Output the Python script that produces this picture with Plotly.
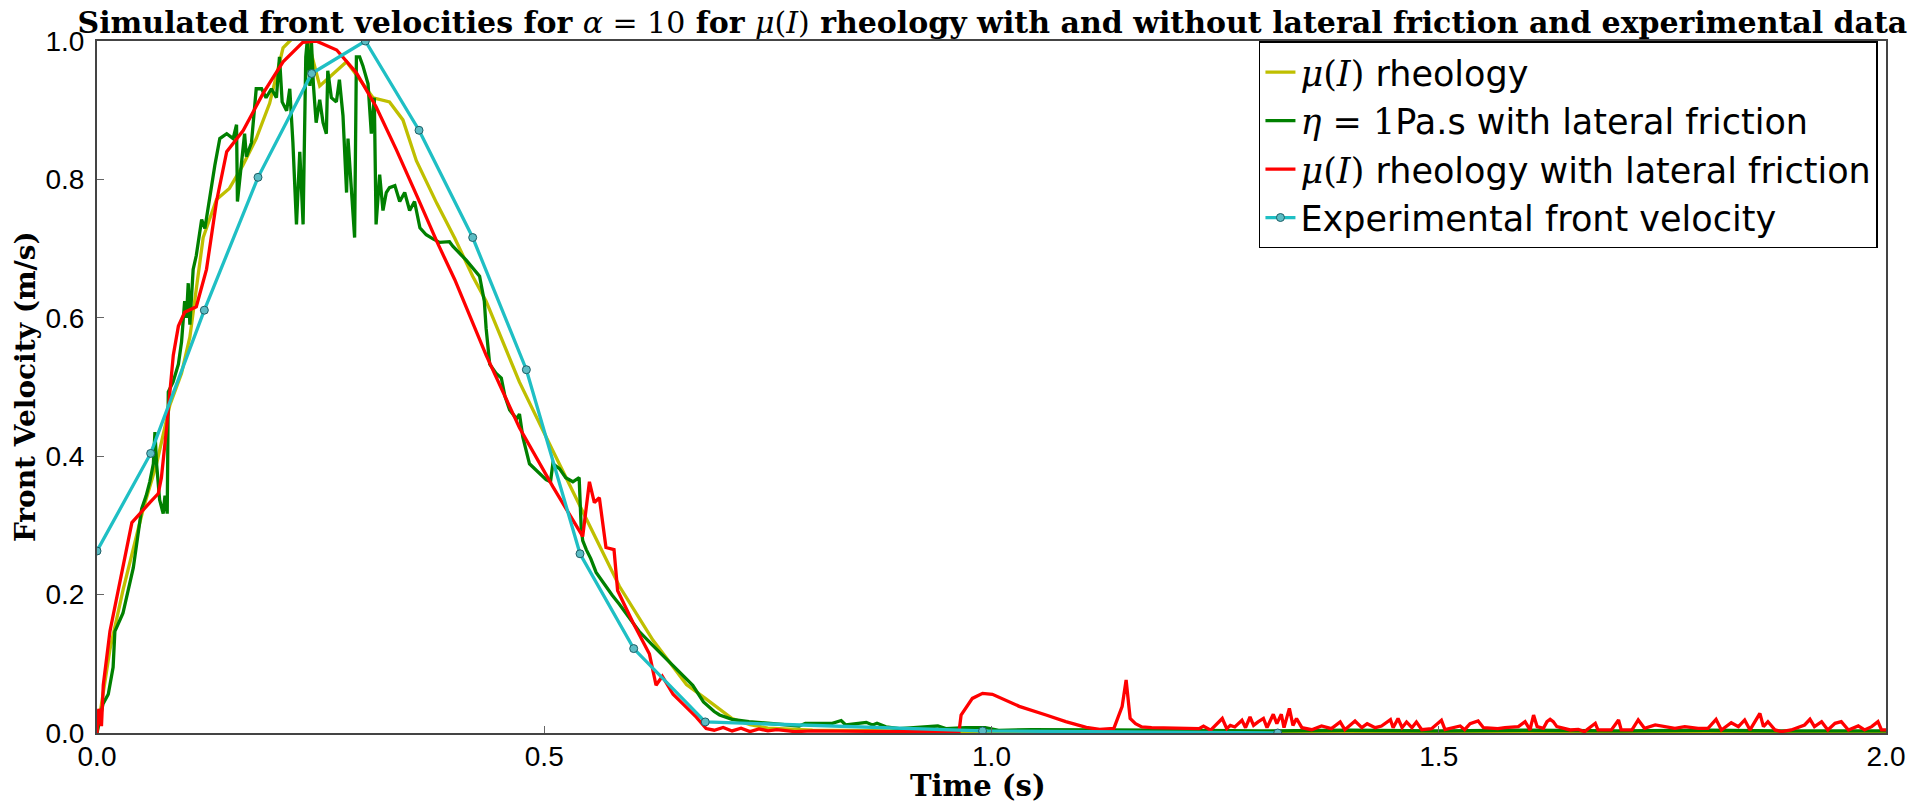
import plotly.graph_objects as go

# ---------------- data ----------------
mu_t = [0, 0.0145, 0.029, 0.0517, 0.0666, 0.0815, 0.0945, 0.1038, 0.1187, 0.1336, 0.148, 0.163, 0.178,
        0.193, 0.208, 0.2155, 0.225, 0.236, 0.249, 0.262, 0.279, 0.294, 0.3086, 0.327, 0.342, 0.357,
        0.38, 0.40, 0.42, 0.435, 0.4723, 0.5096, 0.547, 0.584, 0.6216, 0.659, 0.68, 0.70, 0.71, 0.73,
        0.75, 0.80, 1.0, 2.0]
mu_v = [0, 0.121, 0.206, 0.324, 0.389, 0.474, 0.52, 0.572, 0.716, 0.771, 0.787, 0.82, 0.859,
        0.91, 0.99, 1.0, 1.01, 1.0, 0.935, 0.95, 0.97, 0.944, 0.918, 0.912, 0.886, 0.827,
        0.765, 0.715, 0.66, 0.624, 0.507, 0.408, 0.31, 0.212, 0.134, 0.07, 0.05, 0.03, 0.021, 0.012,
        0.007, 0.004, 0.002, 0.001]

eta_t = [0, 0.0067, 0.0126, 0.018, 0.020, 0.029, 0.0406, 0.0499, 0.055, 0.059, 0.063, 0.0648, 0.0666,
         0.070, 0.074, 0.076, 0.0785, 0.0797, 0.085, 0.091, 0.0945, 0.098, 0.100, 0.102, 0.1038, 0.1075,
         0.111, 0.117, 0.1206, 0.126, 0.1317, 0.1373, 0.145, 0.1522, 0.156, 0.157, 0.1615, 0.165, 0.167,
         0.1727, 0.178, 0.184, 0.189, 0.195, 0.2006, 0.204, 0.207, 0.212, 0.2155, 0.219, 0.223, 0.2267,
         0.2304, 0.2334, 0.235, 0.238, 0.2397, 0.242, 0.245, 0.249, 0.2527, 0.2564, 0.258, 0.262, 0.2676,
         0.271, 0.275, 0.279, 0.2806, 0.2843, 0.288, 0.290, 0.2936, 0.2973, 0.303, 0.3067, 0.310, 0.312,
         0.316, 0.3197, 0.3234, 0.327, 0.333, 0.3384, 0.344, 0.3495, 0.355, 0.361, 0.368, 0.3756, 0.383,
         0.394, 0.398, 0.413, 0.4277, 0.433, 0.435, 0.439, 0.446, 0.452, 0.456, 0.4613, 0.469, 0.4723,
         0.476, 0.4835, 0.494, 0.502, 0.507, 0.5096, 0.517, 0.524, 0.532, 0.539, 0.5413, 0.543, 0.547,
         0.552, 0.558, 0.565, 0.576, 0.584, 0.595, 0.606, 0.621, 0.636, 0.651, 0.666, 0.678, 0.690, 0.696,
         0.71, 0.729, 0.748, 0.766, 0.785, 0.792, 0.822, 0.832, 0.837, 0.86, 0.867, 0.872, 0.882, 0.897,
         0.94, 0.949, 0.971, 0.993, 1.008, 1.045, 1.083, 1.142, 1.2, 1.3, 1.4, 1.5, 1.6, 1.7, 1.8, 1.9, 2.0]
eta_v = [0, 0.042, 0.056, 0.095, 0.147, 0.173, 0.239, 0.324, 0.343, 0.363, 0.389, 0.435, 0.389,
         0.337, 0.317, 0.343, 0.317, 0.493, 0.507, 0.533, 0.565, 0.624, 0.60, 0.65, 0.59, 0.67,
         0.69, 0.742, 0.729, 0.775, 0.82, 0.859, 0.866, 0.859, 0.879, 0.768, 0.82, 0.866, 0.833,
         0.853, 0.931, 0.931, 0.918, 0.931, 0.918, 0.977, 0.912, 0.899, 0.931, 0.853, 0.735, 0.84,
         0.735, 0.977, 1.0, 0.935, 1.0, 0.935, 0.882, 0.915, 0.882, 0.866, 0.957, 0.918, 0.912,
         0.944, 0.892, 0.781, 0.859, 0.794, 0.716, 0.977, 0.977, 0.964, 0.938, 0.866, 0.918, 0.735,
         0.807, 0.755, 0.781, 0.788, 0.791, 0.768, 0.781, 0.755, 0.768, 0.73, 0.72, 0.714, 0.709,
         0.71, 0.703, 0.683, 0.66, 0.624, 0.585, 0.533, 0.52, 0.513, 0.487, 0.467, 0.454, 0.461,
         0.428, 0.389, 0.376, 0.366, 0.363, 0.389, 0.382, 0.369, 0.363, 0.369, 0.297, 0.278, 0.265,
         0.252, 0.232, 0.219, 0.199, 0.186, 0.167, 0.147, 0.127, 0.108, 0.088, 0.069, 0.045, 0.031, 0.026,
         0.0198, 0.0164, 0.014, 0.0116, 0.0101, 0.014, 0.014, 0.018, 0.0116, 0.0154, 0.0116, 0.014, 0.009, 0.0063,
         0.0101, 0.0063, 0.0077, 0.0077, 0.0039, 0.0048, 0.0048, 0.0048, 0.004, 0.003, 0.004, 0.003, 0.004, 0.003, 0.004, 0.003, 0.003]

mulf_t = [0, 0.002, 0.005, 0.007, 0.0145, 0.029, 0.039, 0.059, 0.0685, 0.072, 0.0778, 0.0853, 0.091, 0.098,
          0.111, 0.1224, 0.1336, 0.145, 0.1634, 0.186, 0.208, 0.230, 0.245, 0.268, 0.29, 0.312, 0.3346,
          0.358, 0.38, 0.40, 0.435, 0.4723, 0.5096, 0.543, 0.5505, 0.556, 0.5616, 0.569, 0.578, 0.582,
          0.599, 0.6176, 0.625, 0.632, 0.644, 0.655, 0.670, 0.681, 0.69, 0.70, 0.71, 0.72, 0.73, 0.74,
          0.75, 0.76, 0.78, 0.80, 0.85, 0.90, 0.9637, 0.966, 0.9786, 0.990, 1.001, 1.016, 1.031, 1.061,
          1.083, 1.106, 1.121, 1.1368, 1.1405, 1.146, 1.1505, 1.153, 1.155, 1.161, 1.168, 1.179, 1.213,
          1.232, 1.237, 1.245, 1.258, 1.263, 1.267, 1.272, 1.28, 1.284, 1.289, 1.293, 1.298, 1.304, 1.308,
          1.315, 1.319, 1.324, 1.327, 1.333, 1.337, 1.341, 1.347, 1.358, 1.369, 1.38, 1.3898, 1.395,
          1.4064, 1.414, 1.42, 1.429, 1.436, 1.446, 1.449, 1.4545, 1.459, 1.464, 1.47, 1.475, 1.481,
          1.492, 1.503, 1.507, 1.524, 1.529, 1.535, 1.544, 1.55, 1.566, 1.574, 1.589, 1.5965, 1.602,
          1.606, 1.61, 1.617, 1.621, 1.6245, 1.628, 1.632, 1.639, 1.647, 1.656, 1.663, 1.675, 1.678,
          1.693, 1.701, 1.704, 1.716, 1.723, 1.73, 1.742, 1.753, 1.764, 1.775, 1.79, 1.801, 1.81, 1.816,
          1.827, 1.835, 1.842, 1.848, 1.853, 1.859, 1.863, 1.868, 1.876, 1.883, 1.894, 1.909, 1.915,
          1.92, 1.928, 1.935, 1.943, 1.95, 1.958, 1.969, 1.976, 1.984, 1.991, 1.995, 2.0]
mulf_v = [0, 0.035, 0.01, 0.069, 0.147, 0.239, 0.304, 0.333, 0.346, 0.369, 0.441, 0.546, 0.588, 0.608,
          0.616, 0.67, 0.768, 0.84, 0.8706, 0.925, 0.97, 0.998, 1.0, 0.987, 0.954, 0.905, 0.843,
          0.775, 0.71, 0.655, 0.546, 0.441, 0.356, 0.284, 0.363, 0.333, 0.34, 0.268, 0.265, 0.206,
          0.16, 0.114, 0.069, 0.082, 0.056, 0.042, 0.023, 0.0065, 0.004, 0.008, 0.003, 0.007, 0.002, 0.006,
          0.003, 0.005, 0.002, 0.003, 0.002, 0.002, 0.002, 0.026, 0.05, 0.0573, 0.056, 0.0477, 0.0385, 0.026,
          0.0164, 0.0082, 0.0053, 0.0067, 0.019, 0.038, 0.0766, 0.038, 0.021, 0.0136, 0.0087, 0.0077, 0.0063,
          0.0063, 0.01, 0.004, 0.021, 0.0063, 0.011, 0.0087, 0.0183, 0.0077, 0.0231, 0.011, 0.016, 0.021, 0.0077,
          0.027, 0.0135, 0.027, 0.0077, 0.0356, 0.011, 0.021, 0.0077, 0.0048, 0.0101, 0.0063, 0.016, 0.0048,
          0.0173, 0.0077, 0.0135, 0.0077, 0.0101, 0.0193, 0.0077, 0.021, 0.0077, 0.016, 0.0077, 0.016, 0.0048,
          0.0063, 0.0183, 0.0048, 0.0101, 0.0048, 0.0135, 0.0173, 0.0077, 0.0063, 0.0077, 0.0092, 0.0164, 0.0044,
          0.026, 0.0092, 0.0068, 0.0164, 0.0198, 0.0164, 0.0092, 0.0068, 0.0044, 0.0053, 0.002, 0.014, 0.0044,
          0.0044, 0.0188, 0.0044, 0.0044, 0.0188, 0.0068, 0.0116, 0.0092, 0.0068, 0.0092, 0.0068, 0.0068, 0.0198, 0.0044,
          0.0149, 0.0092, 0.0188, 0.0044, 0.0164, 0.0284, 0.0092, 0.0164, 0.0044, 0.002, 0.0044, 0.0116, 0.0198,
          0.0092, 0.0164, 0.0044, 0.014, 0.0164, 0.0044, 0.0102, 0.0044, 0.0092, 0.0164, 0.0044, 0.0044]

exp_t = [0, 0.06, 0.12, 0.18, 0.24, 0.30, 0.36, 0.42, 0.48, 0.54, 0.60, 0.68, 0.99, 1.32]
exp_v = [0.263, 0.404, 0.611, 0.803, 0.953, 1.0, 0.871, 0.716, 0.525, 0.259, 0.122, 0.016, 0.003, 0.0]

x_ticks = [0.0, 0.5, 1.0, 1.5, 2.0]
x_ticktext = ["0.0", "0.5", "1.0", "1.5", "2.0"]
y_ticks = [0.0, 0.2, 0.4, 0.6, 0.8, 1.0]
y_ticktext = ["0.0", "0.2", "0.4", "0.6", "0.8", "1.0"]

# ---------------- figure ----------------
SERIF = "DejaVu Serif"
SANS = "DejaVu Sans"
MATH = "<span style=\"font-family:'DejaVu Serif'\">{}</span>"

names = [
    MATH.format("<i>μ</i>(<i>I</i>)") + " rheology",
    MATH.format("<i>η</i> = 1") + "Pa.s with lateral friction",
    MATH.format("<i>μ</i>(<i>I</i>)") + " rheology with lateral friction",
    "Experimental front velocity",
]

fig = go.Figure()
fig.add_trace(go.Scatter(x=mu_t, y=mu_v, mode="lines", name=names[0],
                         line=dict(color="#bfbf00", width=3.3)))
fig.add_trace(go.Scatter(x=eta_t, y=eta_v, mode="lines", name=names[1],
                         line=dict(color="#008000", width=3.3)))
fig.add_trace(go.Scatter(x=mulf_t, y=mulf_v, mode="lines", name=names[2],
                         line=dict(color="#ff0000", width=3.3)))
fig.add_trace(go.Scatter(x=exp_t, y=exp_v, mode="lines+markers", name=names[3],
                         line=dict(color="#1fbfc4", width=3.3),
                         marker=dict(size=8, color="#5bbcc4", line=dict(color="#1d5f66", width=1))))

title_text = ("<b>Simulated front velocities for </b><i>α</i> = 10<b> for </b>"
              "<i>μ</i>(<i>I</i>)<b> rheology with and without lateral friction and experimental data</b>")

axis_common = dict(
    showline=True, linecolor="#444444", linewidth=2, mirror=True,
    ticks="inside", ticklen=7, tickwidth=1, tickcolor="#666666",
    showgrid=False, zeroline=False,
    tickfont=dict(family="Liberation Sans", size=28, color="black"),
)

fig.update_layout(
    width=1917, height=805, autosize=False,
    margin=dict(l=97, r=29, t=41, b=72),
    paper_bgcolor="white", plot_bgcolor="white",
    title=dict(text=title_text, x=0.5177, xanchor="center", xref="container",
               y=1 - 22 / 805, yanchor="middle", yref="container",
               font=dict(family=SERIF, size=30, color="black")),
    xaxis=dict(range=[0, 2], tickvals=x_ticks, ticktext=x_ticktext,
               ticklabelstandoff=-3, **axis_common),
    yaxis=dict(range=[0, 1], tickvals=y_ticks, ticktext=y_ticktext,
               ticklabelstandoff=5, **axis_common),
    legend=dict(x=0.9955, xanchor="right", y=0.9996, yanchor="top",
                bgcolor="white", bordercolor="black", borderwidth=1.5,
                font=dict(family=SANS, size=35, color="black"),
                tracegroupgap=0, itemwidth=30),
    showlegend=True,
    annotations=[
        dict(text="<b>Time (s)</b>", xref="paper", yref="paper",
             x=(979 - 97) / 1791, y=-(786 - 733) / 692, xanchor="center", yanchor="middle",
             showarrow=False, font=dict(family=SERIF, size=29, color="black")),
        dict(text="<b>Front Velocity (m/s)</b>", xref="paper", yref="paper",
             x=-(97 - 25) / 1791, y=(733 - 387) / 692, xanchor="center", yanchor="middle",
             textangle=-90, showarrow=False, font=dict(family=SERIF, size=28, color="black")),
    ],
)

fig.write_html("out.html")
